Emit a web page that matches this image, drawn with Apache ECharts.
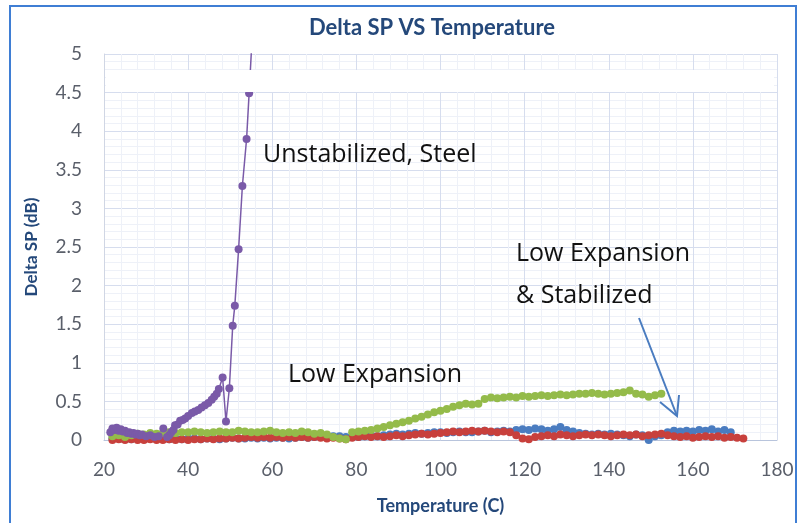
<!DOCTYPE html>
<html>
<head>
<meta charset="utf-8">
<script src="https://cdn.jsdelivr.net/npm/echarts@6/dist/echarts.min.js"></script>
<style>
    html, body { margin: 0; padding: 0; background: #fff; }
    #chart { width: 806px; height: 523px; }
</style>
</head>
<body>
<div id="chart"></div>
<script>
// temperature readings shared by the three low-expansion runs (C)
var temps = [22, 23.5, 25, 26.5, 28, 29.5, 31, 32.5, 34, 35.5, 37, 38.5, 40,
    41.5, 43, 44.5, 46, 47.5, 49, 50.5, 52, 53.5, 55, 56.5, 58, 59.5, 61, 62.5,
    64, 65.5, 67, 68.5, 70, 71.5, 73, 74.5, 76, 77.5, 79,
    80.5, 82, 83.5, 85, 86.5, 88, 89.5, 91, 92.5, 94, 95.5, 97, 98.5,
    100, 101.5, 103, 104.5, 106, 107.5, 109, 110.5, 112, 113.5, 115, 116.5,
    118, 119.5, 121, 122.5, 124, 125.5, 127, 128.5, 130, 131.5,
    133, 134.5, 136, 137.5, 139, 140.5, 142, 143.5, 145, 146.5, 148, 149.5, 151, 152.5,
    154, 155.5, 157, 158.5, 160, 161.5, 163, 164.5, 166, 167.5, 169, 170.5, 172];

// Low Expansion (green)
var lowExpansion = [0.05, 0.06, 0.04, 0.06, 0.08, 0.07, 0.09, 0.08, 0.09, 0.1, 0.09, 0.1, 0.1,
    0.11, 0.1, 0.09, 0.1, 0.11, 0.1, 0.1, 0.12, 0.11, 0.1, 0.1, 0.11, 0.12, 0.1, 0.09,
    0.1, 0.09, 0.11, 0.1, 0.08, 0.09, 0.07, 0.04, 0.02, 0.01, 0.1,
    0.11, 0.12, 0.13, 0.15, 0.17, 0.19, 0.21, 0.23, 0.25, 0.28, 0.3, 0.33, 0.36,
    0.38, 0.4, 0.43, 0.45, 0.47, 0.46, 0.47, 0.53, 0.55, 0.54, 0.55, 0.56,
    0.55, 0.57, 0.56, 0.57, 0.58, 0.57, 0.58, 0.59, 0.58, 0.59,
    0.6, 0.6, 0.61, 0.6, 0.59, 0.6, 0.61, 0.62, 0.64, 0.6, 0.59, 0.56, 0.58, 0.6];

// Low Expansion & Stabilized (blue)
var lowExpStabilized = [0.02, 0.03, 0.02, 0.01, 0.02, 0.01, 0.02, 0.01, 0.02, 0.01, 0.02, 0.01, 0.02,
    0.02, 0.01, 0.02, 0.02, 0.01, 0.02, 0.03, 0.02, 0.02, 0.03, 0.02, 0.03, 0.02,
    0.03, 0.03, 0.02, 0.03, 0.04, 0.03, 0.04, 0.05, 0.04, 0.05, 0.05, 0.04, 0.05,
    0.04, 0.05, 0.06, 0.05, 0.06, 0.07, 0.08, 0.07, 0.08, 0.09, 0.08, 0.09, 0.1,
    0.1, 0.09, 0.1, 0.11, 0.1, 0.1, 0.11, 0.12, 0.1, 0.11, 0.12, 0.11,
    0.13, 0.14, 0.13, 0.15, 0.14, 0.12, 0.14, 0.17, 0.13, 0.11,
    0.09, 0.08, 0.07, 0.08, 0.07, 0.08, 0.07, 0.06, 0.05, 0.07, 0.06, 0.0, 0.05, 0.06,
    0.1, 0.12, 0.11, 0.12, 0.11, 0.13, 0.12, 0.14, 0.11, 0.13, 0.1];

// third low expansion run (red)
var lowExpRed = [0.0, 0.01, 0.0, 0.01, 0.0, 0.0, 0.01, 0.0, 0.0, 0.01, 0.0, 0.01, 0.0,
    0.01, 0.01, 0.02, 0.01, 0.02, 0.02, 0.03, 0.02, 0.03, 0.04, 0.03, 0.04, 0.03,
    0.04, 0.03, 0.04, 0.03, 0.04, 0.03, 0.04, 0.03, 0.02, 0.03, 0.02, 0.01, 0.03,
    0.04, 0.05, 0.04, 0.05, 0.04, 0.05, 0.06, 0.05, 0.06, 0.07, 0.08, 0.07, 0.08,
    0.09, 0.1, 0.11, 0.1, 0.11, 0.12, 0.11, 0.12, 0.11, 0.1, 0.11, 0.1,
    0.06, 0.02, 0.01, 0.04, 0.05, 0.06, 0.05, 0.07, 0.06, 0.05,
    0.06, 0.07, 0.06, 0.07, 0.06, 0.05, 0.06, 0.07, 0.06, 0.07, 0.05, 0.06, 0.07, 0.08,
    0.06, 0.05, 0.04, 0.05, 0.03, 0.04, 0.05, 0.04, 0.05, 0.03, 0.04, 0.03, 0.02];

// Unstabilized, Steel (purple) - [temp, delta]
var unstabilizedSteel = [[21.5, 0.1], [22, 0.15], [22.5, 0.13], [23, 0.16], [23.5, 0.12], [24, 0.14],
    [24.5, 0.11], [25, 0.12], [25.5, 0.09], [26, 0.1], [26.5, 0.08], [27, 0.09], [27.5, 0.07],
    [28, 0.08], [28.5, 0.06], [29, 0.07], [30, 0.05], [31, 0.06], [32, 0.04], [33, 0.05],
    [34.1, 0.15], [35, 0.04], [35.5, 0.06], [36, 0.1], [36.5, 0.13], [36.9, 0.19], [37.5, 0.2],
    [38.1, 0.25], [38.7, 0.26], [39.3, 0.28], [40, 0.31], [40.9, 0.35], [41.6, 0.37], [42.4, 0.39],
    [43.2, 0.42], [44, 0.45], [44.8, 0.48], [45.6, 0.52], [46.2, 0.56], [46.8, 0.6], [47.3, 0.66],
    [48.2, 0.81], [49.0, 0.24], [49.8, 0.67], [50.6, 1.48], [51.1, 1.74], [52.0, 2.47],
    [52.9, 3.29], [53.9, 3.9], [54.5, 4.49], [55.6, 5.6]];

// black trace near zero at start
var blackTrace = [[22, 0.01], [24, 0.0], [26, 0.01], [28, 0.0], [30, 0.0], [32, 0.01], [34, 0.0], [36, 0.0]];

var xTicks = [20, 40, 60, 80, 100, 120, 140, 160, 180];

function pairs(xs, ys) {
    var out = [];
    for (var i = 0; i < ys.length; i++) {
        out.push([xs[i], ys[i]]);
    }
    return out;
}

var chart = echarts.init(document.getElementById('chart'));

function dotSeries(name, data, color, size) {
    return {
        name: name,
        type: 'line',
        data: data,
        symbol: 'circle',
        symbolSize: size,
        showSymbol: true,
        lineStyle: { color: color, width: 1.5 },
        itemStyle: { color: color },
        animation: false
    };
}

var titleBlue = '#24487a';
var noteFont = '25px "Open Sans"';

var option = {
    backgroundColor: '#fff',
    title: {
        text: 'Delta SP VS Temperature',
        left: 427,
        top: 12,
        textAlign: 'center',
        textStyle: { fontFamily: 'Lato', fontSize: 22, fontWeight: 'bold', color: titleBlue }
    },
    grid: { left: 104, right: 29, top: 54, bottom: 83 },
    xAxis: {
        type: 'value',
        min: xTicks[0],
        max: xTicks[xTicks.length - 1],
        interval: 20,
        name: 'Temperature (C)',
        nameLocation: 'middle',
        nameGap: 57,
        nameTextStyle: { fontFamily: 'Lato', fontSize: 18, fontWeight: 'bold', color: titleBlue },
        axisLine: { show: true, lineStyle: { color: '#b8c4dc', width: 1 } },
        axisTick: { show: false },
        axisLabel: { margin: 20, fontFamily: 'Lato', fontSize: 19, color: '#5a5f6a' },
        splitLine: { show: true, lineStyle: { color: '#d6ddee' } },
        minorTick: { show: false, splitNumber: 5 },
        minorSplitLine: { show: true, lineStyle: { color: '#eef1f8' } }
    },
    yAxis: {
        type: 'value',
        min: 0,
        max: 5,
        interval: 0.5,
        name: 'Delta SP (dB)',
        nameLocation: 'middle',
        nameGap: 64,
        nameTextStyle: { fontFamily: 'Lato', fontSize: 17, fontWeight: 'bold', color: titleBlue },
        axisLine: { show: true, lineStyle: { color: '#d0d6e4' } },
        axisTick: { show: false },
        axisLabel: { margin: 22, fontFamily: 'Lato', fontSize: 19, color: '#5a5f6a' },
        splitLine: { show: true, lineStyle: { color: '#d6ddee' } },
        minorTick: { show: false, splitNumber: 5 },
        minorSplitLine: { show: true, lineStyle: { color: '#eef1f8' } }
    },
    series: [
        dotSeries('Black', blackTrace, '#1a1a1a', 5),
        dotSeries('Low Expansion & Stabilized', pairs(temps, lowExpStabilized), '#4a7cc0', 8),
        dotSeries('Red', pairs(temps, lowExpRed), '#c8403c', 8),
        dotSeries('Low Expansion', pairs(temps, lowExpansion), '#94bb4a', 8),
        dotSeries('Unstabilized, Steel', unstabilizedSteel, '#7a5aa8', 8)
    ],
    graphic: [
        // outer frame
        { type: 'rect', z: 0, shape: { x: 10, y: 6, width: 786, height: 530 },
          style: { fill: 'none', stroke: '#3f7ed4', lineWidth: 2 } },
        // white band across the top of the plot
        { type: 'rect', z: 10, shape: { x: 106, y: 70, width: 668, height: 22 },
          style: { fill: '#ffffff' } },
        { type: 'text', z: 20, x: 263, y: 155,
          style: { text: 'Unstabilized, Steel', fill: '#111', font: noteFont, verticalAlign: 'middle' } },
        { type: 'text', z: 20, x: 288, y: 375,
          style: { text: 'Low Expansion', fill: '#111', font: noteFont, verticalAlign: 'middle' } },
        { type: 'text', z: 20, x: 516, y: 254,
          style: { text: 'Low Expansion', fill: '#111', font: noteFont, verticalAlign: 'middle' } },
        { type: 'text', z: 20, x: 516, y: 296,
          style: { text: '& Stabilized', fill: '#111', font: noteFont, verticalAlign: 'middle' } },
        // arrow
        { type: 'line', z: 20, shape: { x1: 639, y1: 318, x2: 677, y2: 416 },
          style: { stroke: '#4a7cc0', lineWidth: 2 } },
        { type: 'polyline', z: 20, shape: { points: [[660, 402], [677, 416], [679, 395]] },
          style: { stroke: '#4a7cc0', lineWidth: 2, fill: 'none' } }
    ]
};

chart.setOption(option);
</script>
</body>
</html>
